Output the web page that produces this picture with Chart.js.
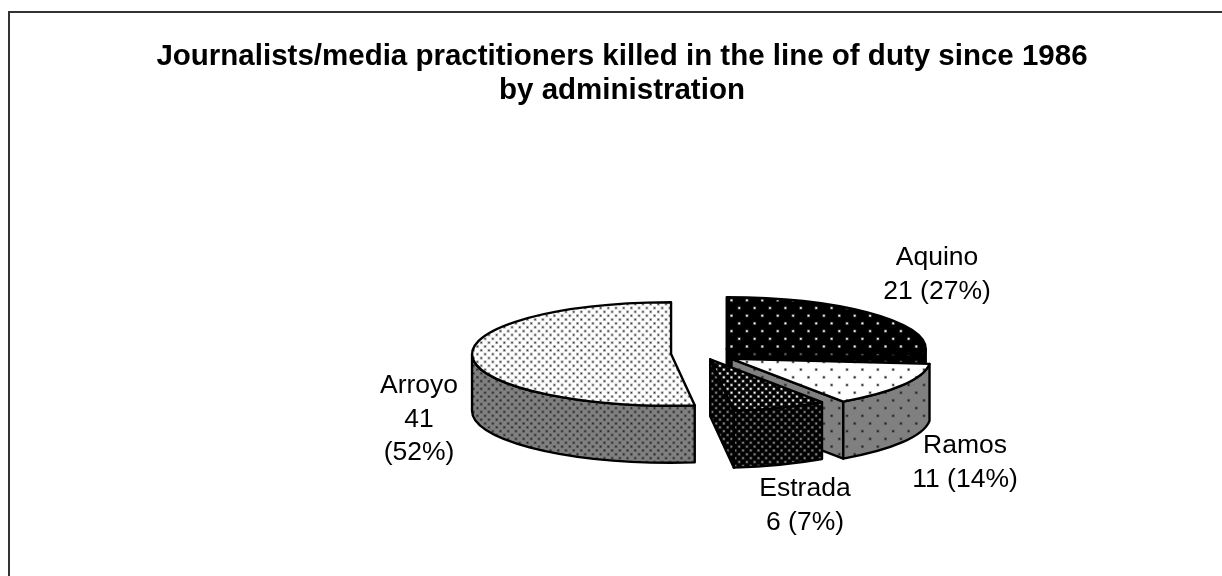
<!DOCTYPE html>
<html>
<head>
<meta charset="utf-8">
<style>html,body{margin:0;padding:0;background:#fff}canvas{display:block}</style>
<script src="https://cdn.jsdelivr.net/npm/chart.js@4/dist/chart.umd.min.js"></script>
</head>
<body>
<canvas id="c" width="1222" height="576"></canvas>
<script>
// ---- data ----
const categories = ['Aquino', 'Ramos', 'Estrada', 'Arroyo'];
const values = [21, 11, 6, 41];
const percents = [27, 14, 7, 52];
const titleLines = ['Journalists/media practitioners killed in the line of duty since 1986', 'by administration'];

// ---- layout ----
const CX = 703, CY = 352.5, RADIUS = 199, SQUASH = 0.26, DEPTH = 57, EXPLODE = 32;
const nudge = [[0,2],[1,2],[-4,-1],[0,1]];
const labelAnchors = [[937,258],[965,446],[805,489],[419,386]];
const labelLineGap = 33.5;
const FONT = '"Liberation Sans", Arial, sans-serif';

function labelLines(i){
  if (categories[i] === 'Arroyo') return [categories[i], String(values[i]), '(' + percents[i] + '%)'];
  return [categories[i], values[i] + ' (' + percents[i] + '%)'];
}

function tile(bg, dot, step, core){
  const size = 77, cv = document.createElement('canvas');
  cv.width = cv.height = size;
  const g = cv.getContext('2d');
  g.fillStyle = bg; g.fillRect(0,0,size,size);
  const half = step/2, n = Math.round(size/half);
  for (let row = -1; row <= n; row++){
    for (let col = -1; col <= n; col++){
      if ((row+col) % 2 !== 0) continue;
      const x = col*half, y = row*half;
      g.fillStyle = dot;
      g.globalAlpha = 0.35; g.fillRect(x-1.5,y-1.5,3,3);
      g.globalAlpha = 1; g.fillRect(x-core/2,y-core/2,core,core);
    }
  }
  return document.createElement('canvas').getContext('2d').createPattern(cv,'repeat');
}

const SPARSE = 15.4, DENSE = 7.7;
const topFills = [
  tile('#000000','#ffffff',SPARSE,1.6),
  tile('#ffffff','#222222',SPARSE,1.6),
  tile('#000000','#ffffff',DENSE,1.6),
  tile('#ffffff','#333333',DENSE,1.3)
];
const sideFills = [
  tile('#000000','#666666',SPARSE,1.6),
  tile('#808080','#222222',SPARSE,1.6),
  tile('#000000','#8a8a8a',DENSE,1.6),
  tile('#808080','#222222',DENSE,1.3)
];

function drawPiece(el, i, ctx, orig, area){
  const p = el.getProps(['x','y','startAngle','endAngle','outerRadius'], true);
  const a0 = p.startAngle, a1 = p.endAngle, R = p.outerRadius, mid = (a0+a1)/2;
  const ox = CX + Math.cos(mid)*EXPLODE + nudge[i][0];
  const oy = CY + Math.sin(mid)*EXPLODE*SQUASH + nudge[i][1];
  const ry = R*SQUASH;
  const pt = a => [ox + R*Math.cos(a), oy + ry*Math.sin(a)];
  ctx.save();
  ctx.lineWidth = 2.4; ctx.strokeStyle = '#000'; ctx.lineJoin = 'round';
  ctx.fillStyle = sideFills[i];
  const wall = a => {
    const q = pt(a);
    ctx.beginPath();
    ctx.moveTo(ox,oy); ctx.lineTo(q[0],q[1]); ctx.lineTo(q[0],q[1]+DEPTH); ctx.lineTo(ox,oy+DEPTH); ctx.closePath();
    ctx.fill(); ctx.stroke();
  };
  if (Math.cos(a0) < 0) wall(a0);
  if (Math.cos(a1) > 0) wall(a1);
  const s = Math.max(a0, 0), e = Math.min(a1, Math.PI);
  if (e > s){
    ctx.beginPath();
    ctx.ellipse(ox,oy,R,ry,0,s,e);
    ctx.ellipse(ox,oy+DEPTH,R,ry,0,e,s,true);
    ctx.closePath(); ctx.fill(); ctx.stroke();
  }
  ctx.restore();

  ctx.save();
  ctx.translate(ox,oy); ctx.scale(1,SQUASH); ctx.translate(-p.x,-p.y);
  topFills[i].setTransform(ctx.getTransform().inverse());
  orig.call(el, ctx, area);
  ctx.restore();

  ctx.save();
  ctx.lineWidth = 2.4; ctx.strokeStyle = '#000'; ctx.lineJoin = 'round';
  ctx.beginPath();
  ctx.moveTo(ox,oy); ctx.ellipse(ox,oy,R,ry,0,a0,a1); ctx.closePath();
  ctx.stroke();
  ctx.restore();
}

const pie3d = {
  id: 'pie3d',
  beforeDraw(chart){
    const c = chart.ctx;
    c.save(); c.strokeStyle = '#333'; c.lineWidth = 2;
    c.beginPath(); c.moveTo(9,576); c.lineTo(9,12); c.lineTo(1222,12); c.stroke();
    c.restore();
  },
  beforeDatasetDraw(chart, args){
    args.meta.data.forEach((el,i) => {
      if (el.__wrapped) return;
      el.__wrapped = true;
      const orig = el.draw;
      el.draw = function(ctx, area){ drawPiece(this, i, ctx, orig, area); };
    });
  },
  afterDatasetsDraw(chart){
    const c = chart.ctx;
    c.save();
    c.font = '26.5px ' + FONT; c.fillStyle = '#000'; c.textAlign = 'center'; c.textBaseline = 'middle';
    categories.forEach((_, i) => {
      labelLines(i).forEach((t, j) => c.fillText(t, labelAnchors[i][0], labelAnchors[i][1] + j*labelLineGap));
    });
    c.restore();
  }
};

new Chart(document.getElementById('c'), {
  type: 'pie',
  data: { labels: categories, datasets: [{ data: values, backgroundColor: topFills, borderWidth: 0, clip: false }] },
  plugins: [pie3d],
  options: {
    responsive: false, animation: false, radius: RADIUS,
    layout: { padding: { left: 22, right: 0, top: 0, bottom: 0 } },
    plugins: {
      legend: { display: false }, tooltip: { enabled: false },
      title: { display: true, text: titleLines, color: '#000', padding: { top: 40, bottom: 10 },
               font: { family: FONT, size: 29.5, weight: 'bold', lineHeight: 1.153 } }
    }
  }
});
</script>
</body>
</html>
